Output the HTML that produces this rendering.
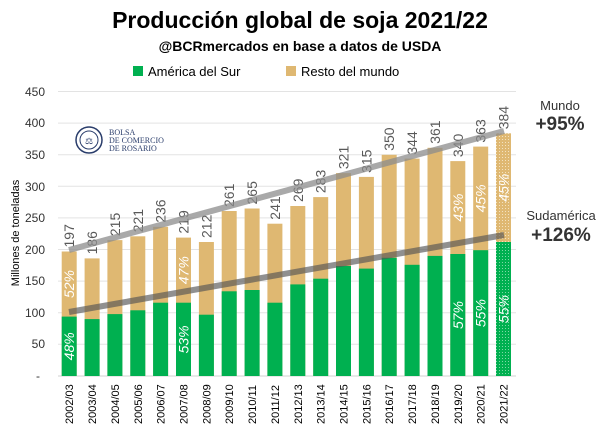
<!DOCTYPE html>
<html><head><meta charset="utf-8"><style>
body{margin:0;background:#fff}
svg{display:block;font-family:"Liberation Sans",sans-serif}
</style></head><body>
<svg width="600" height="436" viewBox="0 0 600 436" xmlns="http://www.w3.org/2000/svg">
<defs>
<pattern id="dg" width="3" height="3" patternUnits="userSpaceOnUse"><rect width="3" height="3" fill="#00b050"/><rect x="1" y="1" width="1" height="1" fill="#7fd8a6"/></pattern>
<pattern id="dt" width="3" height="3" patternUnits="userSpaceOnUse"><rect width="3" height="3" fill="#dfb872"/><rect x="1" y="1" width="1" height="1" fill="#f3e2c0"/></pattern>
</defs>
<text x="300" y="28" text-anchor="middle" font-size="23" font-weight="bold" fill="#000">Producción global de soja 2021/22</text>
<text x="300" y="51" text-anchor="middle" font-size="14" font-weight="bold" fill="#000">@BCRmercados en base a datos de USDA</text>
<rect x="133" y="66" width="10" height="10" fill="#00b050"/>
<text x="148" y="76" font-size="13" fill="#000">América del Sur</text>
<rect x="286" y="66" width="10" height="10" fill="#dfb872"/>
<text x="301" y="76" font-size="13" fill="#000">Resto del mundo</text>
<g stroke="#e3e3e3" stroke-width="1">
<line x1="58" x2="516" y1="91.5" y2="91.5"/><line x1="58" x2="516" y1="123.1" y2="123.1"/><line x1="58" x2="516" y1="154.7" y2="154.7"/><line x1="58" x2="516" y1="186.3" y2="186.3"/><line x1="58" x2="516" y1="217.9" y2="217.9"/><line x1="58" x2="516" y1="249.5" y2="249.5"/><line x1="58" x2="516" y1="281.1" y2="281.1"/><line x1="58" x2="516" y1="312.7" y2="312.7"/><line x1="58" x2="516" y1="344.3" y2="344.3"/>
</g>
<line x1="58" x2="516" y1="376" y2="376" stroke="#d0d0d0"/>
<g font-size="12" fill="#333" text-anchor="end">
<text x="45" y="96">450</text><text x="45" y="127">400</text><text x="45" y="159">350</text><text x="45" y="191">300</text><text x="45" y="222">250</text><text x="45" y="254">200</text><text x="45" y="285">150</text><text x="45" y="317">100</text><text x="45" y="348">50</text><text x="40" y="380">-</text>
</g>
<text transform="translate(19,233) rotate(-90)" text-anchor="middle" font-size="11" fill="#000">Millones de toneladas</text>

<g fill="#dfb872">
<rect x="61.7" y="251.5" width="15" height="124.5"/>
<rect x="84.6" y="258.4" width="15" height="117.6"/>
<rect x="107.4" y="240.1" width="15" height="135.9"/>
<rect x="130.3" y="236.3" width="15" height="139.7"/>
<rect x="153.1" y="226.8" width="15" height="149.2"/>
<rect x="176.0" y="237.6" width="15" height="138.4"/>
<rect x="198.9" y="242.0" width="15" height="134"/>
<rect x="221.7" y="211.0" width="15" height="165"/>
<rect x="244.6" y="208.5" width="15" height="167.5"/>
<rect x="267.4" y="223.7" width="15" height="152.3"/>
<rect x="290.3" y="206.0" width="15" height="170"/>
<rect x="313.2" y="197.1" width="15" height="178.9"/>
<rect x="336.0" y="173.1" width="15" height="202.9"/>
<rect x="358.9" y="176.9" width="15" height="199.1"/>
<rect x="381.7" y="154.8" width="15" height="221.2"/>
<rect x="404.6" y="158.6" width="15" height="217.4"/>
<rect x="427.5" y="147.8" width="15" height="228.2"/>
<rect x="450.3" y="161.1" width="15" height="214.9"/>
<rect x="473.2" y="146.6" width="15" height="229.4"/>
<rect x="496.0" y="133.3" width="15" height="242.7" fill="url(#dt)"/>
</g>
<g fill="#00b050">
<rect x="61.7" y="316.6" width="15" height="59.4"/>
<rect x="84.6" y="319.1" width="15" height="56.9"/>
<rect x="107.4" y="314.1" width="15" height="61.9"/>
<rect x="130.3" y="310.3" width="15" height="65.7"/>
<rect x="153.1" y="302.7" width="15" height="73.3"/>
<rect x="176.0" y="302.7" width="15" height="73.3"/>
<rect x="198.9" y="314.7" width="15" height="61.3"/>
<rect x="221.7" y="291.3" width="15" height="84.7"/>
<rect x="244.6" y="290.0" width="15" height="86"/>
<rect x="267.4" y="302.7" width="15" height="73.3"/>
<rect x="290.3" y="284.4" width="15" height="91.6"/>
<rect x="313.2" y="278.7" width="15" height="97.3"/>
<rect x="336.0" y="266.0" width="15" height="110"/>
<rect x="358.9" y="268.6" width="15" height="107.4"/>
<rect x="381.7" y="257.8" width="15" height="118.2"/>
<rect x="404.6" y="264.8" width="15" height="111.2"/>
<rect x="427.5" y="255.9" width="15" height="120.1"/>
<rect x="450.3" y="254.0" width="15" height="122"/>
<rect x="473.2" y="250.2" width="15" height="125.8"/>
<rect x="496.0" y="242.0" width="15" height="134" fill="url(#dg)"/>
</g>

<g font-size="14" fill="#595959">
<text transform="translate(74.2,247.5) rotate(-90)">197</text>
<text transform="translate(97.1,254.4) rotate(-90)">186</text>
<text transform="translate(119.9,236.1) rotate(-90)">215</text>
<text transform="translate(142.8,232.3) rotate(-90)">221</text>
<text transform="translate(165.6,222.8) rotate(-90)">236</text>
<text transform="translate(188.5,233.6) rotate(-90)">219</text>
<text transform="translate(211.4,238.0) rotate(-90)">212</text>
<text transform="translate(234.2,207.0) rotate(-90)">261</text>
<text transform="translate(257.1,204.5) rotate(-90)">265</text>
<text transform="translate(279.9,219.7) rotate(-90)">241</text>
<text transform="translate(302.8,202.0) rotate(-90)">269</text>
<text transform="translate(325.7,193.1) rotate(-90)">283</text>
<text transform="translate(348.5,169.1) rotate(-90)">321</text>
<text transform="translate(371.4,172.9) rotate(-90)">315</text>
<text transform="translate(394.2,150.8) rotate(-90)">350</text>
<text transform="translate(417.1,154.6) rotate(-90)">344</text>
<text transform="translate(440.0,143.8) rotate(-90)">361</text>
<text transform="translate(462.8,157.1) rotate(-90)">340</text>
<text transform="translate(485.7,142.6) rotate(-90)">363</text>
<text transform="translate(508.5,129.3) rotate(-90)">384</text>
</g>
<g font-size="11" fill="#000">
<text transform="translate(73.2,424) rotate(-90)">2002/03</text>
<text transform="translate(96.1,424) rotate(-90)">2003/04</text>
<text transform="translate(118.9,424) rotate(-90)">2004/05</text>
<text transform="translate(141.8,424) rotate(-90)">2005/06</text>
<text transform="translate(164.6,424) rotate(-90)">2006/07</text>
<text transform="translate(187.5,424) rotate(-90)">2007/08</text>
<text transform="translate(210.4,424) rotate(-90)">2008/09</text>
<text transform="translate(233.2,424) rotate(-90)">2009/10</text>
<text transform="translate(256.1,424) rotate(-90)">2010/11</text>
<text transform="translate(278.9,424) rotate(-90)">2011/12</text>
<text transform="translate(301.8,424) rotate(-90)">2012/13</text>
<text transform="translate(324.7,424) rotate(-90)">2013/14</text>
<text transform="translate(347.5,424) rotate(-90)">2014/15</text>
<text transform="translate(370.4,424) rotate(-90)">2015/16</text>
<text transform="translate(393.2,424) rotate(-90)">2016/17</text>
<text transform="translate(416.1,424) rotate(-90)">2017/18</text>
<text transform="translate(439.0,424) rotate(-90)">2018/19</text>
<text transform="translate(461.8,424) rotate(-90)">2019/20</text>
<text transform="translate(484.7,424) rotate(-90)">2020/21</text>
<text transform="translate(507.5,424) rotate(-90)">2021/22</text>
</g>
<g font-size="14" font-style="italic" fill="#fff" text-anchor="middle">
<text transform="translate(74.2,346.3) rotate(-90)">48%</text>
<text transform="translate(74.2,284) rotate(-90)">52%</text>
<text transform="translate(188.5,339.4) rotate(-90)">53%</text>
<text transform="translate(188.5,270.2) rotate(-90)">47%</text>
<text transform="translate(462.8,315) rotate(-90)">57%</text>
<text transform="translate(462.8,207.6) rotate(-90)">43%</text>
<text transform="translate(485.7,313.1) rotate(-90)">55%</text>
<text transform="translate(485.7,198.4) rotate(-90)">45%</text>
<text transform="translate(508.5,309) rotate(-90)">55%</text>
<text transform="translate(508.5,187.7) rotate(-90)">45%</text>
</g>

<circle cx="89" cy="140" r="13" fill="none" stroke="#2a3d6b" stroke-width="1.5"/>
<circle cx="89" cy="140" r="9" fill="none" stroke="#2a3d6b" stroke-width="1"/>
<text x="89" y="144" text-anchor="middle" font-size="9" fill="#2a3d6b">⚖</text>
<g font-family="Liberation Serif,serif" font-size="8" fill="#2a3d6b"><text x="109" y="135">BOLSA</text><text x="109" y="143">DE COMERCIO</text><text x="109" y="151">DE ROSARIO</text></g>

<line x1="69" y1="250" x2="504" y2="131" stroke="#8c8c8c" stroke-opacity="0.75" stroke-width="6"/>
<line x1="69" y1="312" x2="504" y2="235" stroke="#555" stroke-opacity="0.65" stroke-width="6"/>

<text x="560" y="110" text-anchor="middle" font-size="13" fill="#333">Mundo</text>
<text x="560" y="130" text-anchor="middle" font-size="19" font-weight="bold" fill="#333">+95%</text>
<text x="561" y="220" text-anchor="middle" font-size="13" fill="#333">Sudamérica</text>
<text x="561" y="241" text-anchor="middle" font-size="19" font-weight="bold" fill="#333">+126%</text>
</svg>
</body></html>
